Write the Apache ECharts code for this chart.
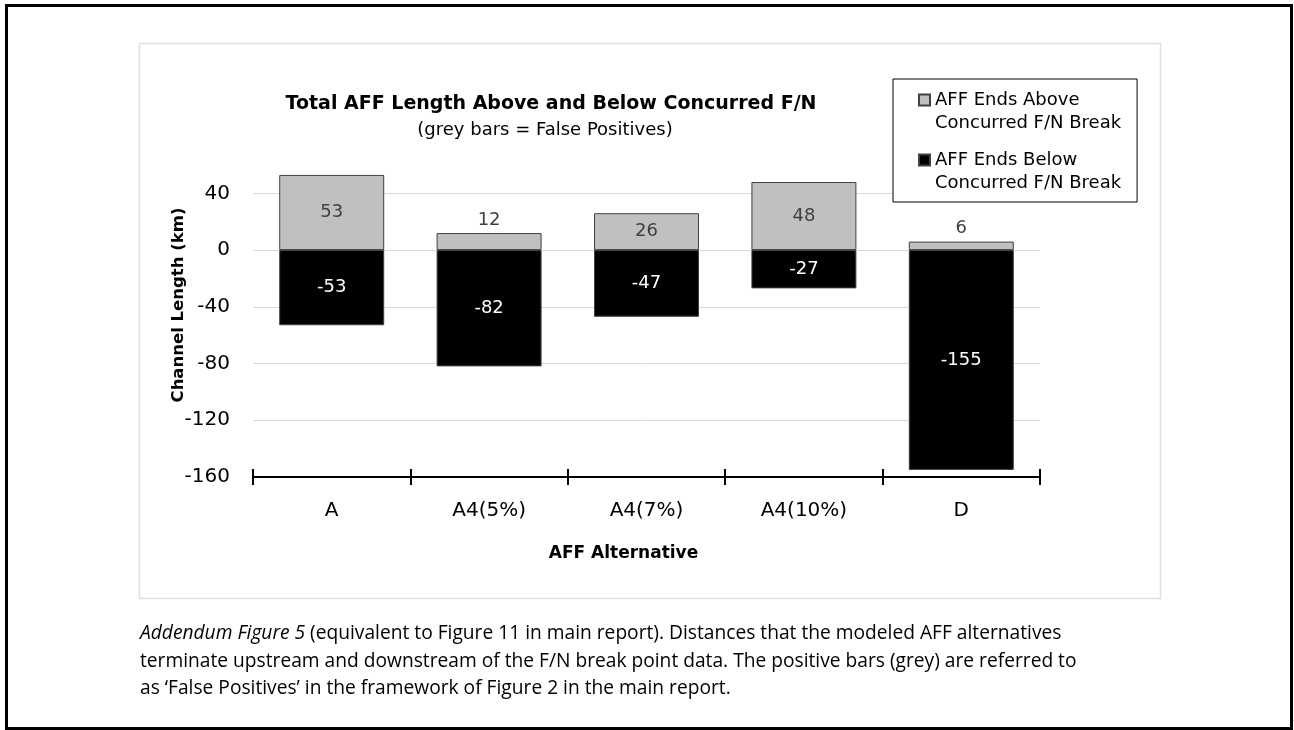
<!DOCTYPE html>
<html>
<head>
<meta charset="utf-8">
<script src="https://cdn.jsdelivr.net/npm/echarts@6/dist/echarts.min.js"></script>
<style>
html,body{margin:0;padding:0;background:#fff;}
#chart{width:1294px;height:730px;}
</style>
</head>
<body>
<div id="chart"></div>
<script>
const categories = ['A', 'A4(5%)', 'A4(7%)', 'A4(10%)', 'D'];
const aboveValues = [53, 12, 26, 48, 6];
const belowValues = [-53, -82, -47, -27, -155];
const aboveName = 'AFF Ends Above\nConcurred F/N Break';
const belowName = 'AFF Ends Below\nConcurred F/N Break';

const chartFont = 'DejaVu Sans';
const capFont = '"Open Sans", sans-serif';

const chart = echarts.init(document.getElementById('chart'), null, {renderer: 'canvas'});

const legendIcon = 'path://M0,0L11,0L11,11L0,11ZM0,34';

const option = {
  animation: false,
  backgroundColor: '#fff',
  textStyle: {fontFamily: chartFont},
  title: [
    {
      text: 'Total AFF Length Above and Below Concurred F/N',
      left: 551, top: 95, padding: 0, textAlign: 'center',
      textStyle: {fontFamily: chartFont, fontSize: 19, fontWeight: 'bold', color: '#000'}
    },
    {
      text: '(grey bars = False Positives)',
      left: 545, top: 121, padding: 0, textAlign: 'center',
      textStyle: {fontFamily: chartFont, fontSize: 18, fontWeight: 'normal', color: '#000'}
    },
    {
      text: '{i|Addendum Figure 5} (equivalent to Figure 11 in main report). Distances that the modeled AFF alternatives\nterminate upstream and downstream of the F/N break point data. The positive bars (grey) are referred to\nas \u2018False Positives\u2019 in the framework of Figure 2 in the main report.',
      left: 140, top: 620, padding: 0,
      textStyle: {
        fontFamily: capFont, fontSize: 19.2, fontWeight: 'normal', color: '#000', lineHeight: 27.5,
        rich: {i: {fontFamily: capFont, fontSize: 19.2, fontStyle: 'italic', color: '#000', lineHeight: 27.5}}
      }
    }
  ],
  graphic: [
    {type: 'rect', shape: {x: 6.5, y: 5.5, width: 1285, height: 723}, style: {fill: 'none', stroke: '#000', lineWidth: 3}, silent: true, z: -10},
    {type: 'rect', shape: {x: 139.5, y: 43.5, width: 1021, height: 555}, style: {fill: 'none', stroke: '#e0e0e0', lineWidth: 1.5}, silent: true, z: -10}
  ],
  legend: {
    orient: 'vertical',
    left: 893, top: 79,
    padding: [9.5, 16, 7.5, 25],
    itemGap: 14,
    itemWidth: 11, itemHeight: 34,
    borderColor: '#000', borderWidth: 1,
    backgroundColor: '#fff',
    textStyle: {fontFamily: chartFont, fontSize: 18, color: '#000', lineHeight: 23},
    data: [
      {name: aboveName, icon: legendIcon},
      {name: belowName, icon: legendIcon}
    ]
  },
  grid: [
    {left: 253, right: 254, top: 165, bottom: 253, containLabel: false},
    {left: 253, right: 254, top: 165, bottom: 253, containLabel: false}
  ],
  xAxis: [
    {
      type: 'category', gridIndex: 0, data: categories,
      name: 'AFF Alternative', nameLocation: 'middle', nameGap: 68,
      nameTextStyle: {fontFamily: chartFont, fontSize: 17, fontWeight: 'bold', color: '#000', padding: [0, 46, 0, 0]},
      axisLine: {show: true, onZero: false, lineStyle: {color: '#000', width: 2}},
      axisTick: {show: true, alignWithLabel: false, inside: false, length: 8, lineStyle: {color: '#000', width: 2}},
      axisLabel: {fontFamily: chartFont, fontSize: 20, color: '#000', margin: 24},
      splitLine: {show: false}
    },
    {
      type: 'category', gridIndex: 1, data: categories,
      axisLine: {show: false, onZero: false},
      axisTick: {show: true, alignWithLabel: false, inside: true, length: 8, lineStyle: {color: '#000', width: 2}},
      axisLabel: {show: false},
      splitLine: {show: false}
    }
  ],
  yAxis: [
    {
      type: 'value', gridIndex: 0, min: -160, max: 60, interval: 40,
      name: 'Channel Length (km)', nameLocation: 'middle', nameGap: 66, nameMoveOverlap: false,
      nameTextStyle: {fontFamily: chartFont, fontSize: 16.5, fontWeight: 'bold', color: '#000', padding: [0, 0, 0, 32]},
      axisLine: {show: false},
      axisTick: {show: false},
      axisLabel: {
        fontFamily: chartFont, fontSize: 20, color: '#000', margin: 23,
        showMaxLabel: false
      },
      splitLine: {show: true, showMaxLine: false, showMinLine: false, lineStyle: {color: '#d9d9d9', width: 1}}
    },
    {
      type: 'value', gridIndex: 1, min: -160, max: 60, interval: 40, show: false,
      splitLine: {show: false}
    }
  ],
  series: [
    {
      name: aboveName, type: 'bar', stack: 'total', xAxisIndex: 0, yAxisIndex: 0,
      barWidth: '66.7%',
      itemStyle: {color: '#c0c0c0', borderColor: '#404040', borderWidth: 1},
      label: {show: true, fontFamily: chartFont, fontSize: 18, color: '#404040', distance: 4},
      data: aboveValues.map(v => ({value: v, label: {position: v < 20 ? 'top' : 'inside'}}))
    },
    {
      name: belowName, type: 'bar', stack: 'total', xAxisIndex: 0, yAxisIndex: 0,
      barWidth: '66.7%',
      itemStyle: {color: '#000000', borderColor: '#404040', borderWidth: 1},
      label: {show: true, position: 'inside', fontFamily: chartFont, fontSize: 18, color: '#fff'},
      data: belowValues
    }
  ]
};
chart.setOption(option);
</script>
</body>
</html>
